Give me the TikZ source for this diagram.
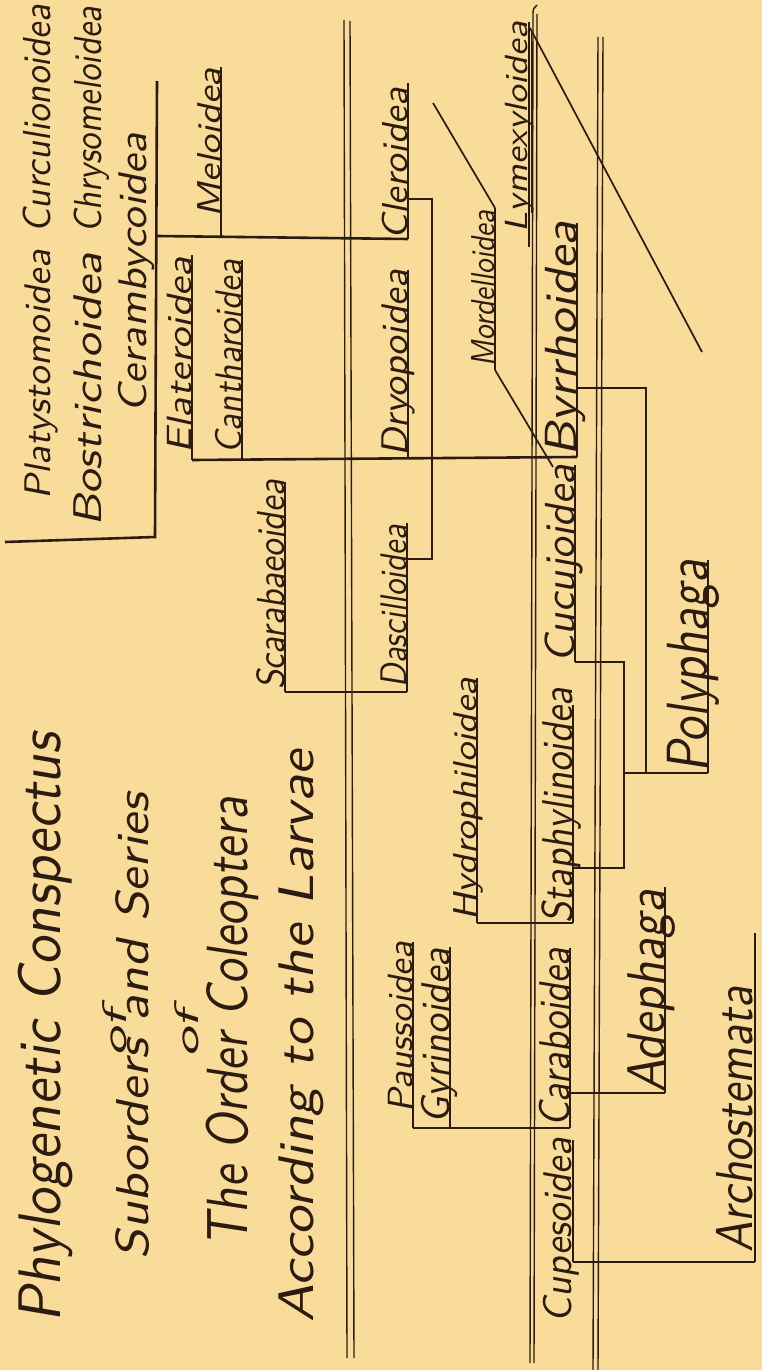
\documentclass[tikz,border=0pt]{standalone}
\usepackage{fontspec}
\usepackage{graphicx}
\newfontfamily\hand[FakeSlant=0.18]{lmsans10-regular.otf}
\definecolor{paper}{HTML}{F9DC9A}
\definecolor{ink}{HTML}{2B1B10}
\tikzset{
  tree/.style={draw=ink, line width=2.6pt},
  uline/.style={draw=ink, line width=2.2pt},
  dbl/.style={draw=ink, line width=1.4pt},
  diag/.style={draw=ink, line width=1.7pt},
  lbl/.style={rotate=90, inner sep=0pt, anchor=base west, text=ink},
}
% name, baseline x, start y, length, font size, text
\newcommand\lb[6]{\node[lbl, font=\hand\fontsize{#5}{#5}\selectfont] (#1) at (#2,#3) {\resizebox{#4pt}{\height}{#6}};}
\begin{document}
\begin{tikzpicture}[x=1pt,y=-1pt]
\useasboundingbox (0,0) rectangle (762,1370);
\fill[paper] (0,0) rectangle (762,1370);

% ---- double lines ----
\draw[dbl] (344,20) -- (347,1358);
\draw[dbl] (350,21) -- (354,1358);
\draw[dbl] (537,5) .. controls (533,9) .. (533,16) -- (530,1363);
\draw[dbl] (537,14) -- (534,1363);
\draw[dbl] (598,37) -- (593,1370);
\draw[dbl] (603,37) -- (598,1370);

% ---- title ----
\lb{t1}{60}{1323}{590}{60}{Phylogenetic Conspectus}
\lb{t2}{126}{1057}{47}{34}{of}
\lb{t3}{148}{1260}{467}{46}{Suborders and Series}
\lb{t4}{198}{1058}{48}{34}{of}
\lb{t5}{247}{1247}{450}{58}{The Order Coleoptera}
\lb{t6}{313}{1323}{573}{50}{According to the Larvae}

% ---- top-left group ----
\lb{pla}{50}{500}{250}{37}{Platystomoidea}
\lb{cur}{50}{233}{228}{39}{Curculionoidea}
\lb{bos}{101}{527}{274}{40}{Bostrichoidea}
\lb{chr}{101}{233}{226}{39}{Chrysomeloidea}
\lb{cer}{146}{413}{280}{40}{Cerambycoidea}

% ---- labels ----
\lb{mel}{220}{218}{150}{33}{Meloidea}
\lb{ela}{191}{454}{197}{35}{Elateroidea}
\lb{can}{241}{454}{194}{37}{Cantharoidea}
\lb{cle}{407}{240}{152}{36}{Cleroidea}
\lb{dry}{407}{457}{187}{37}{Dryopoidea}
\lb{mor}{494}{367}{157}{33}{Mordelloidea}
\lb{lym}{527}{233}{211}{32}{Lymexyloidea}
\lb{byr}{576}{457}{235}{45}{Byrrhoidea}
\lb{sca}{284}{690}{210}{39}{Scarabaeoidea}
\lb{das}{406}{688}{163}{37}{Dascilloidea}
\lb{hyd}{476}{921}{243}{33}{Hydrophiloidea}
\lb{sta}{572}{924}{236}{43}{Staphylinoidea}
\lb{cuc}{574}{663}{198}{42}{Cucujoidea}
\lb{pol}{707}{773}{213}{58}{Polyphaga}
\lb{ade}{664}{1093}{203}{53}{Adephaga}
\lb{arc}{752}{1253}{266}{52}{Archostemata}
\lb{pau}{412}{1113}{171}{35}{Paussoidea}
\lb{gyr}{449}{1124}{176}{40}{Gyrinoidea}
\lb{car}{569}{1127}{179}{43}{Caraboidea}
\lb{cup}{571}{1323}{185}{40}{Cupesoidea}

% ---- tree lines ----
\draw[tree] (5,542) -- (155,537) -- (157,81);
\draw[tree] (157,236) -- (408,239);
\draw[uline] (221,67) -- (221,236);
\draw[uline] (192,255) -- (192,460);
\draw[uline] (242,260) -- (242,460);
\draw[tree] (192,460) -- (577,457);
\draw[uline] (408,83) -- (408,239);
\draw[uline] (408,270) -- (408,458);
\draw[tree] (408,199) -- (432,199) -- (432,559) -- (407,559);
\draw[uline] (407,523) -- (407,692);
\draw[uline] (285,482) -- (285,692);
\draw[tree] (285,692) -- (407,692);
\draw[uline] (577,223) -- (577,457);
\draw[tree] (577,388) -- (646,388) -- (646,773);
\draw[tree] (624,773) -- (708,773);
\draw[uline] (708,560) -- (708,773);
\draw[uline] (575,465) -- (575,662);
\draw[tree] (575,662) -- (624,662) -- (624,868) -- (573,868);
\draw[uline] (573,705) -- (573,923);
\draw[uline] (477,678) -- (477,923);
\draw[tree] (477,923) -- (573,923);
\draw[uline] (413,942) -- (413,1128);
\draw[uline] (450,947) -- (450,1128);
\draw[tree] (413,1128) -- (570,1128);
\draw[uline] (570,948) -- (570,1128);
\draw[tree] (570,1093) -- (665,1093);
\draw[uline] (665,887) -- (665,1093);
\draw[uline] (573,1140) -- (573,1262);
\draw[tree] (573,1262) -- (755,1262);
\draw[uline] (755,933) -- (755,1262);

% Mordelloidea and Lymexyloidea
\draw[uline] (495,208) -- (495,370);
\draw[diag] (433,103) -- (495,208);
\draw[diag] (495,370) -- (553,467);
\draw[uline] (529,22) -- (529,247);
\draw[dbl, line width=0.9pt] (531,32) -- (531,213);
\draw[diag] (530,28) -- (702,352);
\end{tikzpicture}
\end{document}
